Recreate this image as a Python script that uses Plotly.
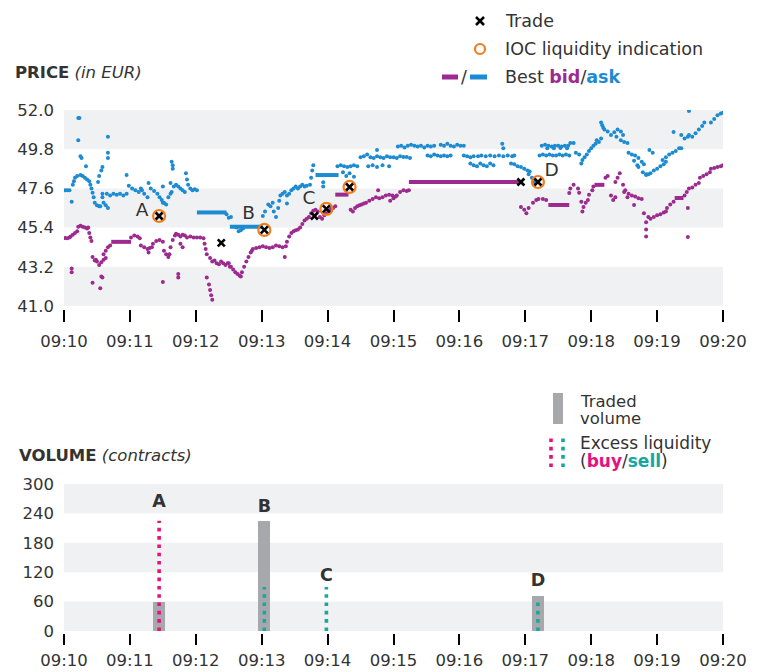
import plotly.graph_objects as go

# ---------------- data ----------------
# time in seconds after 09:10:00
tick_seconds = [0, 60, 120, 180, 240, 300, 360, 420, 480, 540, 600]
time_labels = ["09:10", "09:11", "09:12", "09:13", "09:14", "09:15",
               "09:16", "09:17", "09:18", "09:19", "09:20"]
price_ticks = [41.0, 43.2, 45.4, 47.6, 49.8, 52.0]
volume_ticks = [0, 60, 120, 180, 240, 300]

# best ask quotes (seconds, EUR)
ask_t = [1, 3, 5, 7, 8, 9, 10, 12, 13, 14, 13, 15, 16, 15, 17, 19, 20, 21, 23, 24, 25, 26, 27, 28, 30, 32, 33,
         31, 32, 34, 35, 35, 35, 36, 38, 40, 40, 40, 40, 39, 42, 45, 48, 51, 54, 57, 57,
         59, 62, 65, 68, 70, 71, 73, 76, 77, 79, 82, 85, 87, 89, 90, 91, 93, 90, 95, 97, 98,
         98, 99, 99, 97, 100, 102, 104, 106, 108, 110, 111, 112, 113, 115, 117, 119, 121,
         148, 150, 152, 157, 159, 161, 163,
         181, 183, 186, 188, 190, 191, 193, 195, 196,
         197, 199, 201, 203, 205, 207, 209, 211, 213, 215, 217, 219, 221, 203,
         224, 225, 226, 227, 236, 236,
         249, 252, 255, 258, 261, 264, 267, 254, 257, 260, 264,
         270, 273, 276, 279, 282, 285, 288, 291, 294, 297, 300, 277, 281, 285, 290, 296, 285,
         303, 306, 309, 312, 315,
         304, 307, 310, 313, 316, 319, 322, 325, 328, 331, 334, 337,
         331, 334, 337, 340, 343, 346, 349, 352,
         343, 346, 349, 352, 355, 358, 361, 364,
         364, 367, 370, 373, 370, 373, 376, 379, 382, 385, 388, 391,
         377, 380, 384, 388, 392, 396, 400, 404, 408, 410, 399, 400,
         407, 410, 413, 416, 419, 422, 424, 423, 426, 428,
         433, 436, 439, 442, 445, 448, 451, 454, 457, 460,
         435, 438, 441, 444, 447, 450, 453, 456, 459, 440, 446, 452, 458,
         461, 464, 466, 469, 471, 472, 474, 476, 478, 480, 482, 484, 485, 487, 489,
         489, 490, 491, 492, 495, 498, 501, 504, 507, 509, 503, 507, 510, 513,
         514, 517, 520, 523, 526, 528, 519, 522, 523, 527, 530, 532, 533, 536,
         530, 534, 537, 540, 543, 546, 548, 545, 548, 551, 554, 557, 560, 562, 555,
         562, 565, 568, 569, 569, 572, 575, 578, 581, 583, 589, 592, 595, 598, 600]
ask_p = [47.5, 47.5, 47.5, 46.85, 47.8, 48.0, 48.2, 48.3, 51.55, 51.55, 50.3, 49.4, 49.3, 48.35, 48.3, 48.2, 48.85,
         48.1, 48.0, 47.8, 47.6, 47.35, 47.1, 46.8, 46.65, 46.6, 46.6,
         47.96, 48.3, 48.6, 48.8, 47.3, 47.1, 46.8, 46.65, 46.5, 50.5, 49.6, 49.3, 47.3, 47.2, 47.3, 47.25, 47.3,
         47.2, 47.3, 48.35,
         47.75, 47.6, 47.5, 47.4, 47.6, 47.5, 47.3, 47.1, 47.9, 47.6, 47.45, 47.3, 47.1, 46.95, 46.8, 46.8, 46.7,
         47.7, 47.1, 47.3, 47.4,
         49.1, 48.7, 48.9, 47.9, 47.7, 47.8, 47.7, 47.6, 47.5, 47.4, 48.45, 48.1, 47.8, 47.6, 47.5, 47.55, 47.5,
         46.15, 45.95, 46.0, 45.4, 45.2, 45.25, 45.35,
         46.05, 46.3, 46.7, 46.6, 46.8, 46.3, 46.0, 46.5, 46.9,
         47.2, 47.3, 47.4, 47.2, 47.3, 47.5, 47.6, 47.7, 47.6, 47.7, 47.8, 47.7, 47.75, 46.75,
         47.8, 48.2, 48.6, 48.9, 47.95, 47.7,
         48.85, 48.9, 48.85, 48.8, 48.85, 48.9, 48.85, 48.5, 48.3, 48.45, 48.25,
         49.35, 49.4, 49.5, 49.35, 49.3, 49.4, 49.35, 49.3, 49.4, 49.35, 49.35, 48.85, 48.9, 48.8, 48.9, 48.85,
         49.75,
         49.3, 49.4, 49.36, 49.36, 49.3,
         49.95, 50.0, 49.9, 50.0, 50.05, 50.0, 49.95, 50.0, 49.9, 50.0, 49.95, 50.0,
         49.45, 49.4, 49.5, 49.45, 49.4, 49.45, 49.4, 49.45,
         50.05, 50.0, 50.1, 50.0, 49.95, 50.05, 50.0, 50.0,
         49.45, 49.4, 49.35, 49.4, 49.0, 48.9, 48.85, 49.0, 48.9, 48.85, 49.0, 48.9,
         49.4, 49.45, 49.4, 49.45, 49.4, 49.45, 49.4, 49.45, 49.4, 49.45, 50.1, 49.85,
         49.0, 48.95, 48.85, 48.8, 48.7, 48.6, 48.55, 48.4, 48.2, 47.96,
         49.45, 49.5, 49.45, 49.5, 49.45, 49.45, 49.5, 49.45, 49.5, 49.45,
         50.0, 50.05, 50.0, 49.95, 50.0, 50.0, 49.95, 50.0, 50.0, 49.85, 49.85, 49.87, 49.85,
         50.15, 50.15, 49.6, 49.5, 49.0, 49.2, 49.35, 49.5, 49.7, 49.85, 50.0, 50.1, 50.3, 50.2, 50.4,
         51.3, 51.15, 51.0, 50.9, 50.8, 50.6, 50.75, 50.9, 50.8, 50.6, 50.5, 50.3, 50.2, 50.15,
         49.6, 49.5, 49.45, 49.3, 49.1, 48.95, 49.15, 48.9, 48.8, 48.5, 48.4, 48.4, 49.75, 49.6,
         48.35, 48.45, 48.6, 48.7, 48.85, 48.95, 49.1, 49.2, 49.35, 49.5, 49.6, 49.7, 49.85, 49.85, 50.77,
         50.6, 50.4, 50.5, 51.95, 50.6, 50.5, 50.7, 50.9, 51.1, 51.3, 51.3, 51.5, 51.7, 51.8, 51.85]

# periods where the best ask was held unchanged (start s, end s, EUR)
ask_hold_start = [121, 151, 229]
ask_hold_end = [148, 181, 250]
ask_hold_price = [46.25, 45.45, 48.35]

# best bid quotes (seconds, EUR)
bid_t = [1, 3, 5, 7, 7, 6, 8, 10, 12, 13, 15, 17, 19, 21, 22, 23, 24, 25, 26, 28, 29, 26, 33,
         30, 32, 34, 36, 38, 35, 34, 36, 38, 40, 42,
         61, 64, 67, 69, 70, 73, 76, 78, 80, 77, 81, 84, 87, 90, 90, 91, 93, 95, 96, 97, 99, 101,
         102, 104, 106, 108, 110, 104, 104, 106, 108, 112, 115, 118, 121, 124, 127, 128, 129, 130,
         132, 133, 134, 135, 130,
         133, 135, 137, 139, 141, 143, 145, 147, 149, 151, 150, 152, 154, 156, 158, 160, 161,
         162, 164, 166, 168, 170, 171, 172, 175, 178, 181, 184, 187, 190, 193, 196, 199, 202, 201,
         203, 205, 207, 209, 211, 213, 215, 217, 219, 221, 223,
         225, 227, 229, 231, 233, 235, 237, 239, 241, 243, 245, 247,
         261, 263, 265, 267, 269, 271, 273, 275, 278, 281, 284, 287, 290, 293, 296, 299, 302, 286,
         297, 300, 303, 306, 309, 312, 314,
         416, 419, 421, 423, 427, 430, 432, 436, 439,
         460, 461, 464, 468, 469, 471, 472, 473, 475, 477, 478, 481, 482,
         493, 495, 498, 500, 502, 502, 504, 506, 509, 511, 513, 510, 514, 517, 520, 523, 526, 519,
         528, 530, 530, 530, 532, 534, 537, 540, 543, 546, 548, 549, 552, 555,
         565, 567, 569, 572, 575, 578, 568, 568, 579, 582, 585, 588, 589, 592, 595, 598, 600]
bid_p = [44.82, 44.8, 44.85, 43.1, 42.9, 44.9, 45.0, 45.1, 45.2, 45.45, 45.5, 45.45, 45.4, 45.35, 45.4,
         45.1, 44.85, 44.65, 43.75, 43.55, 43.6, 42.3, 42.0,
         43.5, 43.3, 43.45, 43.6, 43.7, 42.6, 42.65, 43.9, 44.1, 44.3, 44.4,
         44.85, 44.95, 44.9, 44.8, 44.4, 44.3, 44.2, 44.25, 44.3, 44.0, 44.5, 44.65, 44.7, 44.6, 42.35,
         44.1, 43.9, 43.75, 43.9, 44.3, 44.7, 44.95,
         45.05, 45.0, 44.9, 45.0, 44.95, 42.8, 42.6, 44.5, 44.3, 44.85, 44.9, 44.85, 44.85, 44.85, 44.8,
         44.5, 44.2, 43.9,
         42.2, 41.9, 41.6, 41.35, 42.6,
         43.7, 43.5, 43.55, 43.4, 43.35, 43.5, 43.4, 43.3, 43.4, 43.2, 43.4, 43.2, 43.05, 42.9, 42.8, 42.7, 42.65,
         42.9, 43.2, 43.5, 43.75, 44.0, 44.1, 44.2, 44.25, 44.3, 44.35, 44.3, 44.25, 44.3, 44.4, 44.35, 44.3,
         44.35, 43.75,
         44.6, 44.9, 45.1, 45.2, 45.25, 45.3, 45.4, 45.6, 45.8, 45.9, 46.0,
         46.2, 46.35, 46.4, 46.3, 46.0, 45.9, 46.1, 46.2, 46.35, 46.45, 46.5, 46.6,
         46.4, 46.3, 46.5, 46.6, 46.65, 46.7, 46.75, 46.8, 46.9, 47.0, 47.1, 47.05, 47.1, 47.2, 47.25, 47.2,
         47.15, 47.5,
         46.9, 47.05, 47.2, 47.4, 47.5, 47.45, 47.5,
         46.56, 46.4, 46.2, 46.5, 46.8, 46.95, 47.0, 47.0, 46.95,
         47.34, 47.6, 47.8, 47.6, 47.35, 46.85, 46.3, 46.55, 46.8, 46.95, 47.25, 47.5, 47.7,
         48.2, 48.3, 47.2, 46.95, 47.1, 47.96, 48.2, 48.45, 47.8, 47.5, 47.1, 47.4, 47.3, 47.2, 47.15, 47.05,
         47.0, 46.67,
         46.2, 45.7, 45.3, 44.9, 46.0, 45.9, 46.0, 46.1, 46.15, 46.25, 46.3, 46.5, 46.7, 46.85,
         47.2, 47.4, 47.6, 47.65, 47.8, 47.9, 46.5, 44.87, 48.2, 48.3, 48.4, 48.5, 48.7, 48.75, 48.8, 48.85,
         48.9]

# periods where the best bid was held unchanged
bid_hold_start = [43, 247, 314, 441, 483, 556]
bid_hold_end = [61, 259, 414, 460, 492, 564]
bid_hold_price = [44.6, 47.25, 47.96, 46.67, 47.8, 47.06]

# trades and IOC liquidity indications
trade_t = [86.6, 143.2, 182.4, 228, 238.9, 260, 416, 431.5]
trade_p = [46.05, 44.54, 45.27, 46.05, 46.45, 47.68, 47.96, 47.96]
ioc_t = [86.6, 182.4, 238.9, 260, 431.5]
ioc_p = [46.05, 45.27, 46.45, 47.68, 47.96]

event_names = ["A", "B", "C", "D"]
price_label_t = [71, 168, 223, 444]
price_label_p = [46.33, 46.16, 47.0, 48.58]

# volume panel
traded_t = [86.6, 182.4, 431.5]
traded_v = [60, 225, 71]
buy_excess_t = [86.6]
buy_excess_v = [225]
sell_excess_t = [182.4, 238.9, 431.5]
sell_excess_v = [90, 90, 60]
volume_label_t = [86.6, 182.4, 238.9, 431.5]
volume_label_v = [261, 251, 110, 100]

# ---------------- styles ----------------
BID = "#9c2a8f"
ASK = "#1d8bd1"
BUY = "#e5127d"
SELL = "#16a7a0"
IOC = "#f07d20"
BAR = "#a7a8ab"
BAND = "#f0f1f3"
TXT = "#333333"
FONT = "DejaVu Sans"
W, H = 764, 672


def px(x):
    return x / W


def py(y):
    return 1 - y / H


def holds(starts, ends, prices):
    xs, ys = [], []
    for a, b, p in zip(starts, ends, prices):
        xs += [a, b, None]
        ys += [p, p, None]
    return xs, ys


fig = go.Figure()

hx, hy = holds(ask_hold_start, ask_hold_end, ask_hold_price)
fig.add_trace(go.Scatter(x=hx, y=hy, mode="lines", line=dict(color=ASK, width=4),
                         hoverinfo="skip", showlegend=False))
hx, hy = holds(bid_hold_start, bid_hold_end, bid_hold_price)
fig.add_trace(go.Scatter(x=hx, y=hy, mode="lines", line=dict(color=BID, width=4),
                         hoverinfo="skip", showlegend=False))
fig.add_trace(go.Scatter(x=ask_t, y=ask_p, mode="markers", marker=dict(color=ASK, size=4),
                         name="ask", showlegend=False))
fig.add_trace(go.Scatter(x=bid_t, y=bid_p, mode="markers", marker=dict(color=BID, size=4),
                         name="bid", showlegend=False))
fig.add_trace(go.Scatter(x=ioc_t, y=ioc_p, mode="markers",
                         marker=dict(symbol="circle-open", size=12, color=IOC, line=dict(width=2.2, color=IOC)),
                         showlegend=False))
fig.add_trace(go.Scatter(x=trade_t, y=trade_p, mode="markers",
                         marker=dict(symbol="x-thin", size=7, line=dict(width=2.6, color="black")),
                         showlegend=False))
fig.add_trace(go.Scatter(x=price_label_t, y=price_label_p, mode="text", text=event_names,
                         textfont=dict(family=FONT, size=18.5, color=TXT), showlegend=False, hoverinfo="skip"))

# volume panel
fig.add_trace(go.Bar(x=traded_t, y=traded_v, width=11, marker=dict(color=BAR, line=dict(width=0)),
                     xaxis="x2", yaxis="y2", showlegend=False))
for t, v in zip(buy_excess_t, buy_excess_v):
    fig.add_trace(go.Scatter(x=[t, t], y=[0, v], mode="lines", xaxis="x2", yaxis="y2",
                             line=dict(color=BUY, width=3.6, dash="3.6px,4.7px"), showlegend=False))
for t, v in zip(sell_excess_t, sell_excess_v):
    fig.add_trace(go.Scatter(x=[t, t], y=[0, v], mode="lines", xaxis="x2", yaxis="y2",
                             line=dict(color=SELL, width=3.6, dash="3.6px,4.7px"), showlegend=False))
fig.add_trace(go.Scatter(x=volume_label_t, y=volume_label_v, mode="text",
                         text=["<b>%s</b>" % n for n in event_names], xaxis="x2", yaxis="y2",
                         textfont=dict(family=FONT, size=17.5, color=TXT), showlegend=False, hoverinfo="skip"))

# alternating bands
shapes = []
for i in range(0, len(price_ticks) - 1, 2):
    shapes.append(dict(type="rect", xref="x domain", yref="y", x0=0, x1=1,
                       y0=price_ticks[i], y1=price_ticks[i + 1], fillcolor=BAND, line_width=0, layer="below"))
for i in range(0, len(volume_ticks) - 1, 2):
    shapes.append(dict(type="rect", xref="x2 domain", yref="y2", x0=0, x1=1,
                       y0=volume_ticks[i], y1=volume_ticks[i + 1], fillcolor=BAND, line_width=0, layer="below"))

# legend glyphs (top)
shapes += [
    dict(type="line", xref="paper", yref="paper", x0=px(476), x1=px(484), y0=py(17), y1=py(25),
         line=dict(color="black", width=2.5)),
    dict(type="line", xref="paper", yref="paper", x0=px(476), x1=px(484), y0=py(25), y1=py(17),
         line=dict(color="black", width=2.5)),
    dict(type="circle", xref="paper", yref="paper", x0=px(475), x1=px(485), y0=py(54), y1=py(44),
         line=dict(color=IOC, width=2.2)),
    dict(type="line", xref="paper", yref="paper", x0=px(442), x1=px(458), y0=py(77), y1=py(77),
         line=dict(color=BID, width=5)),
    dict(type="line", xref="paper", yref="paper", x0=px(470), x1=px(487), y0=py(77), y1=py(77),
         line=dict(color=ASK, width=5)),
    # volume legend
    dict(type="rect", xref="paper", yref="paper", x0=px(553), x1=px(563), y0=py(424), y1=py(393),
         fillcolor=BAR, line_width=0),
    dict(type="line", xref="paper", yref="paper", x0=px(551), x1=px(551), y0=py(467), y1=py(438),
         line=dict(color=BUY, width=3.6, dash="3.6px,4.7px")),
    dict(type="line", xref="paper", yref="paper", x0=px(563), x1=px(563), y0=py(467), y1=py(438),
         line=dict(color=SELL, width=3.6, dash="3.6px,4.7px")),
]


def ann(text, x, y, size=17.5, xanchor="left", color=TXT):
    return dict(text=text, x=px(x), y=py(y), xref="paper", yref="paper", xanchor=xanchor,
                yanchor="middle", showarrow=False, font=dict(family=FONT, size=size, color=color))


annotations = [
    ann("<b>PRICE</b> <i>(in EUR)</i>", 13, 73, size=16.5),
    ann("<b>VOLUME</b> <i>(contracts)</i>", 17, 455, size=16.5),
    ann("Trade", 503, 21),
    ann("IOC liquidity indication", 503, 49),
    ann("Best <b><span style='color:%s'>bid</span></b>/<b><span style='color:%s'>ask</span></b>" % (BID, ASK),
        503, 77),
    ann("/", 464, 77, xanchor="center"),
    ann("Traded", 578, 401, size=16.5),
    ann("volume", 578, 418, size=16.5),
    ann("Excess liquidity", 578, 443, size=17),
    ann("(<b><span style='color:%s'>buy</span></b>/<b><span style='color:%s'>sell</span></b>)" % (BUY, SELL),
        578, 461, size=17),
]

xcommon = dict(range=[0, 600], tickvals=tick_seconds, ticktext=time_labels, ticks="outside", ticklen=12,
               tickwidth=2, tickcolor="black", showgrid=False, zeroline=False, showline=False,
               tickfont=dict(family=FONT, size=16.5, color=TXT),
               domain=[px(64), px(723)], anchor="free", fixedrange=True)

fig.update_layout(
    width=W, height=H, margin=dict(l=0, r=0, t=0, b=0, autoexpand=False),
    paper_bgcolor="white", plot_bgcolor="white",
    font=dict(family=FONT, color=TXT),
    xaxis=dict(xcommon, position=py(309), ticklabelstandoff=5),
    yaxis=dict(domain=[py(306), py(110)], range=[41, 52], tickvals=price_ticks,
               ticktext=["%.1f" % v for v in price_ticks], showgrid=False, zeroline=False, ticks="",
               tickfont=dict(family=FONT, size=16.5, color=TXT), ticklabelstandoff=9),
    xaxis2=dict(xcommon, position=py(633), ticklen=11, ticklabelstandoff=1),
    yaxis2=dict(domain=[py(631), py(484)], range=[0, 300], tickvals=volume_ticks,
                ticktext=[str(v) for v in volume_ticks], showgrid=False, zeroline=False, ticks="",
                tickfont=dict(family=FONT, size=16.5, color=TXT), ticklabelstandoff=9, anchor="x2"),
    shapes=shapes, annotations=annotations, bargap=0,
)

fig.write_html("out.html", config={"displayModeBar": False},
               post_script="document.body.style.margin='0';document.body.style.padding='0';")
